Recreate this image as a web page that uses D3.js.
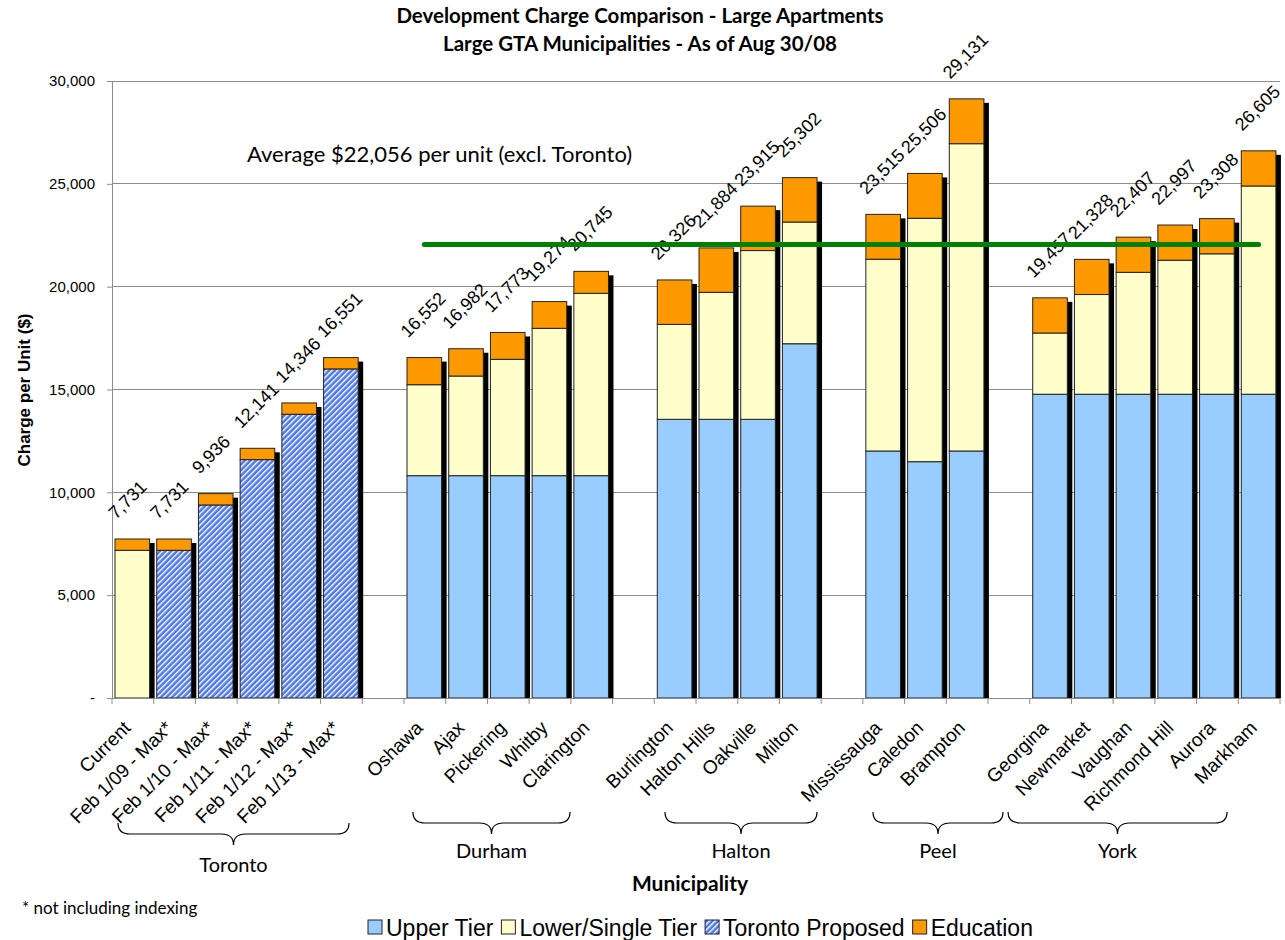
<!DOCTYPE html><html><head><meta charset="UTF-8"><script src="https://d3js.org/d3.v7.min.js"></script><style>
body { margin: 0; background: #fff; }
text { font-family: "Liberation Sans", Arial, sans-serif; fill: #000; }
.cal { font-family: Lato, "Open Sans", sans-serif; }
</style></head><body><div id="chart"></div><script>
// categories (gaps between groups are added below)
const categories = ["Current", "Feb 1/09 - Max*", "Feb 1/10 - Max*", "Feb 1/11 - Max*", "Feb 1/12 - Max*", "Feb 1/13 - Max*",
  "Oshawa", "Ajax", "Pickering", "Whitby", "Clarington",
  "Burlington", "Halton Hills", "Oakville", "Milton",
  "Mississauga", "Caledon", "Brampton",
  "Georgina", "Newmarket", "Vaughan", "Richmond Hill", "Aurora", "Markham"];
const groupNames = ["Toronto", "Durham", "Halton", "Peel", "York"];
const groupOf = [0, 0, 0, 0, 0, 0, 1, 1, 1, 1, 1, 2, 2, 2, 2, 3, 3, 3, 4, 4, 4, 4, 4, 4];

const upperTier = [0, 0, 0, 0, 0, 0,
  10810, 10810, 10810, 10810, 10810,
  13550, 13550, 13550, 17225,
  12010, 11490, 12010,
  14770, 14770, 14770, 14770, 14770, 14770];
const lowerTier = [7181, 0, 0, 0, 0, 0,
  4423, 4845, 5658, 7165, 8866,
  4616, 6174, 8205, 5917,
  9325, 11836, 14941,
  2977, 4848, 5927, 6517, 6828, 10125];
const torontoProposed = [0, 7181, 9386, 11591, 13796, 16001,
  0, 0, 0, 0, 0,
  0, 0, 0, 0,
  0, 0, 0,
  0, 0, 0, 0, 0, 0];
const education = [550, 550, 550, 550, 550, 550,
  1319, 1327, 1305, 1299, 1069,
  2160, 2160, 2160, 2160,
  2180, 2180, 2180,
  1710, 1710, 1710, 1710, 1710, 1710];
const averageExclToronto = 22056;
const yTicks = [0, 5000, 10000, 15000, 20000, 25000, 30000];

const W = 1285, H = 940;
const svg = d3.select('#chart').append('svg').attr('width', W).attr('height', H);

const defs = svg.append('defs');
const pat = defs.append('pattern').attr('id', 'hatch').attr('patternUnits', 'userSpaceOnUse')
  .attr('width', 4).attr('height', 4).attr('patternTransform', 'rotate(45)');
pat.append('rect').attr('width', 4).attr('height', 4).attr('fill', '#4d78e6');
pat.append('rect').attr('x', 0).attr('width', 1.4).attr('height', 4).attr('fill', '#ffffff');

// slot keys with gaps between groups
const slots = [];
categories.forEach((c, i) => {
  if (i > 0 && groupOf[i] !== groupOf[i - 1]) slots.push('gap' + groupOf[i]);
  slots.push(c);
});

const x = d3.scaleBand().domain(slots).range([112, 1280]);
const y = d3.scaleLinear().domain([0, 30000]).range([698, 81]);
const barPad = 3, barW = x.bandwidth() * 0.83;

// gridlines
svg.append('g').selectAll('line').data(yTicks.slice(1)).enter().append('line')
  .attr('x1', 112).attr('x2', 1280).attr('y1', d => y(d)).attr('y2', d => y(d))
  .attr('stroke', '#8c8c8c').attr('stroke-width', 1).attr('shape-rendering', 'crispEdges');

// y axis
const yAxis = svg.append('g').attr('transform', 'translate(112,0)')
  .call(d3.axisLeft(y).tickValues(yTicks).tickSize(5).tickPadding(12)
    .tickFormat(d => d === 0 ? '-' : d3.format(',')(d)));
yAxis.select('.domain').attr('stroke', '#8c8c8c');
yAxis.selectAll('.tick line').attr('stroke', '#8c8c8c');
yAxis.selectAll('text').style('font-size', '15px').style('font-family', '"Liberation Sans", Arial, sans-serif');

svg.append('text').attr('transform', 'translate(30,390) rotate(-90)')
  .attr('text-anchor', 'middle').style('font-size', '17px').style('font-weight', 'bold')
  .text('Charge per Unit ($)');

// bars
const keys = ['upper', 'lower', 'proposed', 'edu'];
const rows = categories.map((c, i) => ({ cat: c, upper: upperTier[i], lower: lowerTier[i], proposed: torontoProposed[i], edu: education[i] }));
const stacked = d3.stack().keys(keys)(rows);
const fills = { upper: '#99ccff', lower: '#ffffcc', proposed: 'url(#hatch)', edu: '#ff9900' };

rows.forEach(r => { r.total = r.upper + r.lower + r.proposed + r.edu; });

svg.append('g').selectAll('rect').data(rows).enter().append('rect')
  .attr('x', d => x(d.cat) + barPad + 5).attr('y', d => y(d.total) + 4)
  .attr('width', barW).attr('height', d => y(0) - y(d.total) - 4)
  .attr('fill', '#000');

const layers = svg.append('g').selectAll('g').data(stacked).enter().append('g')
  .attr('fill', d => fills[d.key]);
layers.selectAll('rect').data(d => d.filter(s => s[1] > s[0])).enter().append('rect')
  .attr('x', d => x(d.data.cat) + barPad).attr('y', d => y(d[1]))
  .attr('width', barW).attr('height', d => y(d[0]) - y(d[1]))
  .attr('stroke', '#222').attr('stroke-width', 1);

// x axis
svg.append('line').attr('x1', 112).attr('x2', 1280).attr('y1', 698.5).attr('y2', 698.5).attr('stroke', '#8c8c8c');
svg.append('g').selectAll('line').data(slots.map(s => x(s)).concat([1280])).enter().append('line')
  .attr('x1', d => d).attr('x2', d => d).attr('y1', 698).attr('y2', 704).attr('stroke', '#8c8c8c');

// category labels
svg.append('g').selectAll('text').data(categories).enter().append('text')
  .attr('transform', d => `translate(${x(d) + x.bandwidth() / 2 - 1},729) rotate(-45)`)
  .attr('text-anchor', 'end').style('font-size', '19px').text(d => d);

// value labels
svg.append('g').selectAll('text').data(rows).enter().append('text')
  .attr('transform', d => `translate(${x(d.cat) + barPad + 1},${y(d.total) - 19}) rotate(-45)`)
  .style('font-size', '18px').text(d => d3.format(',')(d.total));

// average line (excl. Toronto)
const nonToronto = categories.filter((c, i) => groupOf[i] > 0);
const firstC = nonToronto[0], lastC = nonToronto[nonToronto.length - 1];
svg.append('line')
  .attr('x1', x(firstC) + barPad + barW / 2).attr('x2', x(lastC) + barPad + barW / 2)
  .attr('y1', y(averageExclToronto)).attr('y2', y(averageExclToronto))
  .attr('stroke', '#008000').attr('stroke-width', 5).attr('stroke-linecap', 'round');
svg.append('text').attr('class', 'cal').attr('x', 247).attr('y', 162).style('font-size', '22px')
  .text('Average $' + d3.format(',')(averageExclToronto) + ' per unit (excl. Toronto)');

// title
svg.append('text').attr('class', 'cal').attr('x', 640).attr('y', 23).attr('text-anchor', 'middle')
  .style('font-size', '20.5px').style('font-weight', 'bold').text('Development Charge Comparison - Large Apartments');
svg.append('text').attr('class', 'cal').attr('x', 640).attr('y', 51).attr('text-anchor', 'middle')
  .style('font-size', '20.5px').style('font-weight', 'bold').text('Large GTA Municipalities - As of Aug 30/08');

// group braces
const braces = [
  { x1: 118, x2: 349, top: 823, lab: 872 },
  { x1: 413, x2: 570, top: 812, lab: 858 },
  { x1: 665, x2: 817, top: 812, lab: 858 },
  { x1: 873, x2: 1003, top: 812, lab: 858 },
  { x1: 1008, x2: 1227, top: 812, lab: 858 }
];
function bracePath(b) {
  const cx = (b.x1 + b.x2) / 2, m = b.top + 11, t = b.top + 22, r = 12;
  return `M${b.x1},${b.top} Q${b.x1},${m} ${b.x1 + r},${m} L${cx - r},${m} Q${cx},${m} ${cx},${t} Q${cx},${m} ${cx + r},${m} L${b.x2 - r},${m} Q${b.x2},${m} ${b.x2},${b.top}`;
}
svg.append('g').selectAll('path').data(braces).enter().append('path')
  .attr('d', bracePath).attr('fill', 'none').attr('stroke', '#000').attr('stroke-width', 1.2);
svg.append('g').selectAll('text').data(braces).enter().append('text').attr('class', 'cal')
  .attr('x', d => (d.x1 + d.x2) / 2).attr('y', d => d.lab).attr('text-anchor', 'middle')
  .style('font-size', '20px').text((d, i) => groupNames[i]);

svg.append('text').attr('class', 'cal').attr('x', 690).attr('y', 891).attr('text-anchor', 'middle')
  .style('font-size', '21px').style('font-weight', 'bold').text('Municipality');
svg.append('text').attr('class', 'cal').attr('x', 22).attr('y', 914).style('font-size', '17px')
  .text('* not including indexing');

// legend
const legendItems = [
  { name: 'Upper Tier', fill: fills.upper },
  { name: 'Lower/Single Tier', fill: fills.lower },
  { name: 'Toronto Proposed', fill: fills.proposed },
  { name: 'Education', fill: fills.edu }
];
const lg = svg.append('g').attr('transform', 'translate(0,928)');
let lx = 368;
legendItems.forEach(it => {
  lg.append('rect').attr('x', lx).attr('y', -8).attr('width', 14).attr('height', 14)
    .attr('fill', it.fill).attr('stroke', '#222');
  const t = lg.append('text').attr('x', lx + 18).attr('y', 0).attr('dy', '0.35em')
    .style('font-size', '23px').text(it.name);
  lx += 18 + t.node().getComputedTextLength() + 8;
});
</script></body></html>
